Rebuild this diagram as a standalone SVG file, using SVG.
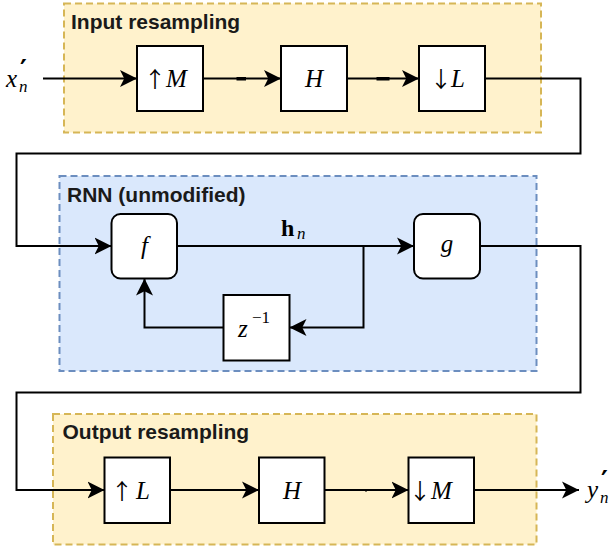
<svg xmlns="http://www.w3.org/2000/svg" width="613" height="548" viewBox="0 0 613 548">
<defs>
<style>
.grpY{fill:#fff2cc;stroke:#d6b656;stroke-width:2;stroke-dasharray:7 4}
.grpB{fill:#dae8fc;stroke:#6c8ebf;stroke-width:2;stroke-dasharray:7 4}
.gl{font-family:"Liberation Sans",Arial,sans-serif;font-weight:bold;font-size:21px;fill:#1a1a1a}
.blk{fill:#ffffff;stroke:#000000;stroke-width:2}
.m{font-family:"Liberation Serif","DejaVu Serif",serif;font-size:25px;fill:#000000}
.i{font-style:italic}
.ar{font-family:"Noto Sans CJK SC","DejaVu Sans",sans-serif;font-size:22px;font-style:normal}
.pr{font-family:"DejaVu Sans",sans-serif;font-size:26px;font-weight:bold;font-style:normal}
.sb{font-size:17px}
.e{fill:none;stroke:#000000;stroke-width:2}
</style>
<marker id="arr" markerUnits="userSpaceOnUse" markerWidth="18" markerHeight="18" viewBox="0 -9 18 18" refX="17" refY="0" orient="auto">
<path d="M0,-8.5 L17,0 L0,8.5 L4.25,0 Z" fill="#000000"/>
</marker>
</defs>

<g id="input-resampling">
<rect class="grpY" x="64" y="3.5" width="477" height="129"/>
<text class="gl" x="71" y="28.5">Input resampling</text>
</g>
<g id="rnn">
<rect class="grpB" x="59.5" y="176" width="477" height="195"/>
<text class="gl" x="67" y="201.5">RNN (unmodified)</text>
</g>
<g id="output-resampling">
<rect class="grpY" x="53" y="414" width="483.5" height="130.5"/>
<text class="gl" x="62.5" y="439">Output resampling</text>
</g>

<g id="connectors">
<path class="e" d="M43,78.5 L137,78.5" marker-end="url(#arr)"/>
<path class="e" d="M203,78.5 L281,78.5" marker-end="url(#arr)"/>
<path class="e" d="M347,78.5 L419,78.5" marker-end="url(#arr)"/>
<path class="e" d="M485,78.5 L580.5,78.5 L580.5,153.5 L16.5,153.5 L16.5,246 L111.5,246" marker-end="url(#arr)"/>
<path class="e" d="M177,246 L414,246" marker-end="url(#arr)"/>
<path class="e" d="M363.5,246 L363.5,327.5 L289.5,327.5" marker-end="url(#arr)"/>
<path class="e" d="M223.5,327.5 L144.5,327.5 L144.5,278.5" marker-end="url(#arr)"/>
<path class="e" d="M480,246 L580.5,246 L580.5,392.5 L16.5,392.5 L16.5,490 L104.5,490" marker-end="url(#arr)"/>
<path class="e" d="M170,490 L259,490" marker-end="url(#arr)"/>
<path class="e" d="M324.5,490 L408.5,490" marker-end="url(#arr)"/>
<path class="e" d="M474,490 L579,490" marker-end="url(#arr)"/>
<rect x="236.5" y="77" width="9.5" height="3.5" fill="#000000"/>
<rect x="376.5" y="77" width="13" height="3.5" fill="#000000"/>
<rect x="365" y="489" width="2" height="2.5" fill="#000000"/>
</g>

<g id="x-in">
<text class="m" x="6" y="87"><tspan class="i">x</tspan><tspan class="pr" x="20" y="79">′</tspan><tspan class="i sb" x="19" y="92">n</tspan></text>
</g>
<g id="upM">
<rect class="blk" x="137" y="46" width="66" height="65"/>
<text class="m" y="87"><tspan class="ar" x="144">↑</tspan><tspan class="i" x="166">M</tspan></text>
</g>
<g id="H1">
<rect class="blk" x="281" y="46" width="66" height="65"/>
<text class="m i" x="314" y="87" text-anchor="middle">H</text>
</g>
<g id="downL">
<rect class="blk" x="419" y="46" width="66" height="65"/>
<text class="m" y="87"><tspan class="ar" x="430">↓</tspan><tspan class="i" x="451">L</tspan></text>
</g>

<g id="f">
<rect class="blk" x="111.5" y="214" width="65.5" height="64.5" rx="9"/>
<text class="m i" x="144.5" y="254" text-anchor="middle">f</text>
</g>
<g id="g">
<rect class="blk" x="414" y="214" width="66" height="64.5" rx="9"/>
<text class="m i" x="447" y="252" text-anchor="middle">g</text>
</g>
<g id="zinv">
<rect class="blk" x="223.5" y="295" width="66" height="65.5"/>
<text class="m" y="337"><tspan class="i" x="238">z</tspan><tspan class="sb" x="252" y="323">−1</tspan></text>
</g>
<g id="hn">
<text class="m" y="236"><tspan font-weight="bold" font-size="24" x="281">h</tspan><tspan class="i sb" x="297" y="239">n</tspan></text>
</g>

<g id="upL">
<rect class="blk" x="104.5" y="457.5" width="65.5" height="65.5"/>
<text class="m" y="499"><tspan class="ar" x="111">↑</tspan><tspan class="i" x="136">L</tspan></text>
</g>
<g id="H2">
<rect class="blk" x="259" y="457.5" width="65.5" height="65.5"/>
<text class="m i" x="292" y="499" text-anchor="middle">H</text>
</g>
<g id="downM">
<rect class="blk" x="408.5" y="457.5" width="65.5" height="65.5"/>
<text class="m" y="499"><tspan class="ar" x="409">↓</tspan><tspan class="i" x="431">M</tspan></text>
</g>
<g id="y-out">
<text class="m" x="587" y="498"><tspan class="i">y</tspan><tspan class="pr" x="601" y="490">′</tspan><tspan class="i sb" x="600" y="503">n</tspan></text>
</g>
</svg>
